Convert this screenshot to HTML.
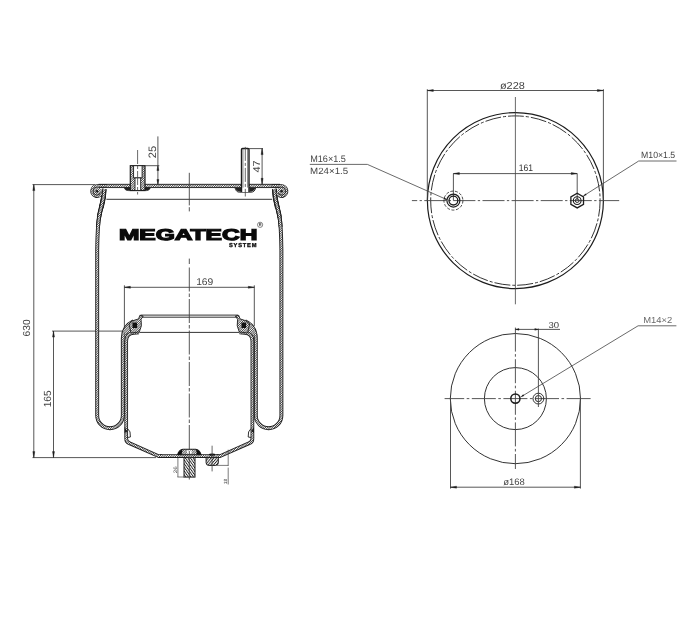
<!DOCTYPE html>
<html><head><meta charset="utf-8"><title>Air spring drawing</title>
<style>
html,body{margin:0;padding:0;background:#fff;}
body{width:700px;height:632px;overflow:hidden;}
svg{display:block;font-family:"Liberation Sans",sans-serif;filter:grayscale(1);text-rendering:geometricPrecision;}
</style></head><body>
<svg width="700" height="632" viewBox="0 0 700 632">
<rect width="700" height="632" fill="#fff"/>
<defs>
<pattern id="h1" width="1.6" height="1.6" patternUnits="userSpaceOnUse" patternTransform="rotate(45)">
<rect width="1.6" height="1.6" fill="#fff"/><rect width="0.8" height="1.6" fill="#444"/></pattern>
<pattern id="h2" width="2.1" height="2.1" patternUnits="userSpaceOnUse" patternTransform="rotate(-35)">
<rect width="2.1" height="2.1" fill="#fff"/><rect width="0.9" height="2.1" fill="#222"/></pattern>
<pattern id="h3" width="2.1" height="2.1" patternUnits="userSpaceOnUse" patternTransform="rotate(40)">
<rect width="2.1" height="2.1" fill="#fff"/><rect width="0.9" height="2.1" fill="#222"/></pattern>
</defs>
<line x1="32.5" y1="184.6" x2="95" y2="184.6" stroke="#444" stroke-width="0.9"/>
<line x1="32.5" y1="457.6" x2="156" y2="457.6" stroke="#444" stroke-width="0.9"/>
<line x1="33.8" y1="184.6" x2="33.8" y2="457.6" stroke="#444" stroke-width="0.9"/>
<polygon points="33.8,184.6 32.8,190.6 34.8,190.6" fill="#1c1c1c" stroke="#1c1c1c" stroke-width="0.4"/>
<polygon points="33.8,457.6 32.8,451.6 34.8,451.6" fill="#1c1c1c" stroke="#1c1c1c" stroke-width="0.4"/>
<line x1="52" y1="331.1" x2="123" y2="331.1" stroke="#444" stroke-width="0.9"/>
<line x1="53.5" y1="331.1" x2="53.5" y2="457.6" stroke="#444" stroke-width="0.9"/>
<polygon points="53.5,331.1 52.5,337.1 54.5,337.1" fill="#1c1c1c" stroke="#1c1c1c" stroke-width="0.4"/>
<polygon points="53.5,457.6 52.5,451.6 54.5,451.6" fill="#1c1c1c" stroke="#1c1c1c" stroke-width="0.4"/>
<text transform="translate(29.77 336.41) rotate(-90) scale(1.0182 1.0195)" font-size="10" fill="#444" stroke="#444" stroke-width="0.0">630</text>
<text transform="translate(51.47 407.36) rotate(-90) scale(1.0129 1.0336)" font-size="10" fill="#444" stroke="#444" stroke-width="0.0">165</text>
<line x1="124.4" y1="285.3" x2="124.4" y2="327" stroke="#444" stroke-width="0.9"/>
<line x1="254.3" y1="285.3" x2="254.3" y2="326" stroke="#444" stroke-width="0.9"/>
<line x1="124.4" y1="287.3" x2="254.3" y2="287.3" stroke="#444" stroke-width="0.9"/>
<polygon points="124.4,287.3 130.4,286.3 130.4,288.3" fill="#1c1c1c" stroke="#1c1c1c" stroke-width="0.4"/>
<polygon points="254.3,287.3 248.3,286.3 248.3,288.3" fill="#1c1c1c" stroke="#1c1c1c" stroke-width="0.4"/>
<text transform="translate(196.13 284.68) scale(1.0300 0.9770)" font-size="10" fill="#444" stroke="#444" stroke-width="0.0">169</text>
<rect x="99" y="184.3" width="180.60000000000002" height="3.3" fill="url(#h1)" stroke="#1c1c1c" stroke-width="0.9"/>
<line x1="106.4" y1="199.3" x2="272.2" y2="199.3" stroke="#1c1c1c" stroke-width="0.9"/>
<path d="M 104.2 189 L 103.5 197 C 102.5 203, 100.6 209, 99.4 215 L 98.5 221 L 97.9 227" fill="none" stroke="#1c1c1c" stroke-width="4.0" stroke-linecap="butt" stroke-linejoin="round"/>
<path d="M 104.2 189 L 103.5 197 C 102.5 203, 100.6 209, 99.4 215 L 98.5 221 L 97.9 227" fill="none" stroke="url(#h1)" stroke-width="2.3" stroke-linecap="butt" stroke-linejoin="round"/>
<path d="M 104.2 189 L 103.5 197 C 102.5 203, 100.6 209, 99.4 215 L 99.0 217.5" fill="none" stroke="#1c1c1c" stroke-width="4.4" stroke-linecap="butt" stroke-linejoin="round"/>
<path d="M 104.2 189 L 103.5 197 C 102.5 203, 100.6 209, 99.4 215 L 99.0 217.5" fill="none" stroke="url(#h1)" stroke-width="2.7" stroke-linecap="butt" stroke-linejoin="round"/>
<path d="M 104.2 189 L 103.5 197 C 102.8 201, 102 204.5, 101.2 208" fill="none" stroke="#1c1c1c" stroke-width="4.8" stroke-linecap="butt" stroke-linejoin="round"/>
<path d="M 104.2 189 L 103.5 197 C 102.8 201, 102 204.5, 101.2 208" fill="none" stroke="url(#h1)" stroke-width="3.0" stroke-linecap="butt" stroke-linejoin="round"/>
<path d="M 104.2 190 L 103.5 197 C 102.5 203, 100.6 209, 99.4 215 C 98.3 221, 97.4 232, 97.2 250 L 97.2 415.4 A 12.8 12.8 0 0 0 122.8 415.4 L 122.8 338 Q 123 326.5, 133.5 321.3" fill="none" stroke="#1c1c1c" stroke-width="3.9" stroke-linecap="butt" stroke-linejoin="round"/>
<path d="M 104.2 190 L 103.5 197 C 102.5 203, 100.6 209, 99.4 215 C 98.3 221, 97.4 232, 97.2 250 L 97.2 415.4 A 12.8 12.8 0 0 0 122.8 415.4 L 122.8 338 Q 123 326.5, 133.5 321.3" fill="none" stroke="url(#h1)" stroke-width="2.1" stroke-linecap="butt" stroke-linejoin="round"/>
<path d="M 124.4 341 L 124.8 331 L 128.5 324.5 L 133 322 L 139.3 331.9 L 131.5 333.2 L 128 336 L 127.7 341 Z" fill="url(#h1)"/>
<path d="M 139 332.4 L 133.5 332.8 Q 126.2 333.5, 126.2 341 L 126.2 438.5 Q 126.0 441.8, 129.5 443.2 L 158.6 456.1 L 162 456.1" fill="none" stroke="#1c1c1c" stroke-width="3.7" stroke-linecap="butt" stroke-linejoin="round"/>
<path d="M 139 332.4 L 133.5 332.8 Q 126.2 333.5, 126.2 341 L 126.2 438.5 Q 126.0 441.8, 129.5 443.2 L 158.6 456.1 L 162 456.1" fill="none" stroke="url(#h1)" stroke-width="2.0" stroke-linecap="butt" stroke-linejoin="round"/>
<path d="M 127.6 428.6 Q 131 431, 130.4 437 L 127.6 437.5" fill="none" stroke="#1c1c1c" stroke-width="0.9"/>
<path d="M 124.6 427 L 127.4 431.5 L 124.6 433 Z" fill="#1c1c1c"/>
<circle cx="97" cy="191.2" r="4.2" fill="url(#h1)" stroke="none"/>
<path d="M 107 185.95 L 96.9 185.95 A 5.05 5.15 0 1 0 101.6 193.2" fill="none" stroke="#1c1c1c" stroke-width="3.3" stroke-linecap="butt" stroke-linejoin="round"/>
<path d="M 107 185.95 L 96.9 185.95 A 5.05 5.15 0 1 0 101.6 193.2" fill="none" stroke="url(#h1)" stroke-width="1.7" stroke-linecap="butt" stroke-linejoin="round"/>
<circle cx="97" cy="191.2" r="1.3" fill="#1c1c1c"/>
<path d="M 129 324 Q 132 320, 138.6 318.9 L 139.8 315.4 L 143.2 316 L 141 319.3 Q 142.6 326, 139.3 331.9 L 131 333 Z" fill="url(#h1)" stroke="#1c1c1c" stroke-width="0.9" stroke-linejoin="round"/>
<rect x="132.5" y="322.6" width="4.6" height="5.4" fill="#111"/>
<path d="M 274.4 189 L 275.1 197 C 276.1 203, 278.0 209, 279.2 215 L 280.1 221 L 280.7 227" fill="none" stroke="#1c1c1c" stroke-width="4.0" stroke-linecap="butt" stroke-linejoin="round"/>
<path d="M 274.4 189 L 275.1 197 C 276.1 203, 278.0 209, 279.2 215 L 280.1 221 L 280.7 227" fill="none" stroke="url(#h1)" stroke-width="2.3" stroke-linecap="butt" stroke-linejoin="round"/>
<path d="M 274.4 189 L 275.1 197 C 276.1 203, 278.0 209, 279.2 215 L 279.6 217.5" fill="none" stroke="#1c1c1c" stroke-width="4.4" stroke-linecap="butt" stroke-linejoin="round"/>
<path d="M 274.4 189 L 275.1 197 C 276.1 203, 278.0 209, 279.2 215 L 279.6 217.5" fill="none" stroke="url(#h1)" stroke-width="2.7" stroke-linecap="butt" stroke-linejoin="round"/>
<path d="M 274.4 189 L 275.1 197 C 275.8 201, 276.6 204.5, 277.4 208" fill="none" stroke="#1c1c1c" stroke-width="4.8" stroke-linecap="butt" stroke-linejoin="round"/>
<path d="M 274.4 189 L 275.1 197 C 275.8 201, 276.6 204.5, 277.4 208" fill="none" stroke="url(#h1)" stroke-width="3.0" stroke-linecap="butt" stroke-linejoin="round"/>
<path d="M 274.4 190 L 275.1 197 C 276.1 203, 278.0 209, 279.2 215 C 280.3 221, 281.2 232, 281.4 250 L 281.4 415.4 A 12.8 12.8 0 0 1 255.8 415.4 L 255.8 338 Q 255.6 326.5, 245.1 321.3" fill="none" stroke="#1c1c1c" stroke-width="3.9" stroke-linecap="butt" stroke-linejoin="round"/>
<path d="M 274.4 190 L 275.1 197 C 276.1 203, 278.0 209, 279.2 215 C 280.3 221, 281.2 232, 281.4 250 L 281.4 415.4 A 12.8 12.8 0 0 1 255.8 415.4 L 255.8 338 Q 255.6 326.5, 245.1 321.3" fill="none" stroke="url(#h1)" stroke-width="2.1" stroke-linecap="butt" stroke-linejoin="round"/>
<path d="M 254.2 341 L 253.8 331 L 250.1 324.5 L 245.6 322 L 239.3 331.9 L 247.1 333.2 L 250.6 336 L 250.9 341 Z" fill="url(#h1)"/>
<path d="M 239.6 332.4 L 245.1 332.8 Q 252.4 333.5, 252.4 341 L 252.4 438.5 Q 252.6 441.8, 249.1 443.2 L 220.0 456.1 L 216.6 456.1" fill="none" stroke="#1c1c1c" stroke-width="3.7" stroke-linecap="butt" stroke-linejoin="round"/>
<path d="M 239.6 332.4 L 245.1 332.8 Q 252.4 333.5, 252.4 341 L 252.4 438.5 Q 252.6 441.8, 249.1 443.2 L 220.0 456.1 L 216.6 456.1" fill="none" stroke="url(#h1)" stroke-width="2.0" stroke-linecap="butt" stroke-linejoin="round"/>
<path d="M 251.0 428.6 Q 247.6 431, 248.2 437 L 251.0 437.5" fill="none" stroke="#1c1c1c" stroke-width="0.9"/>
<path d="M 254.0 427 L 251.2 431.5 L 254.0 433 Z" fill="#1c1c1c"/>
<circle cx="281.6" cy="191.2" r="4.2" fill="url(#h1)" stroke="none"/>
<path d="M 271.6 185.95 L 281.7 185.95 A 5.05 5.15 0 1 1 277.0 193.2" fill="none" stroke="#1c1c1c" stroke-width="3.3" stroke-linecap="butt" stroke-linejoin="round"/>
<path d="M 271.6 185.95 L 281.7 185.95 A 5.05 5.15 0 1 1 277.0 193.2" fill="none" stroke="url(#h1)" stroke-width="1.7" stroke-linecap="butt" stroke-linejoin="round"/>
<circle cx="281.6" cy="191.2" r="1.3" fill="#1c1c1c"/>
<path d="M 249.6 324 Q 246.6 320, 240.0 318.9 L 238.8 315.4 L 235.4 316 L 237.6 319.3 Q 236.0 326, 239.3 331.9 L 247.6 333 Z" fill="url(#h1)" stroke="#1c1c1c" stroke-width="0.9" stroke-linejoin="round"/>
<rect x="241.5" y="322.6" width="4.6" height="5.4" fill="#111"/>
<path d="M 160 456.05 L 218.6 456.05" fill="none" stroke="#1c1c1c" stroke-width="3.7" stroke-linecap="butt" stroke-linejoin="round"/>
<path d="M 160 456.05 L 218.6 456.05" fill="none" stroke="url(#h1)" stroke-width="2.0" stroke-linecap="butt" stroke-linejoin="round"/>
<line x1="140.5" y1="315.1" x2="238.1" y2="315.1" stroke="#1c1c1c" stroke-width="0.9"/>
<line x1="142" y1="317.2" x2="236.6" y2="317.2" stroke="#1c1c1c" stroke-width="0.9"/>
<line x1="139.3" y1="332.4" x2="239.3" y2="332.4" stroke="#1c1c1c" stroke-width="0.9"/>
<path d="M 124.3 187.8 L 150.4 187.8 Q 149.5 190.6, 146.5 190.6 L 128 190.6 Q 125 190.6, 124.3 187.8 Z" fill="#222" stroke="#1c1c1c" stroke-width="0.6"/>
<rect x="130.3" y="165.7" width="14.7" height="24.8" fill="url(#h1)" stroke="#1c1c1c" stroke-width="1.2"/>
<rect x="133.6" y="165.7" width="8.5" height="12.2" fill="#fff" stroke="#1c1c1c" stroke-width="0.9"/>
<rect x="135" y="177.9" width="5.7" height="12.6" fill="#fff" stroke="#1c1c1c" stroke-width="0.9"/>
<line x1="137.6" y1="150" x2="137.6" y2="194.5" stroke="#444" stroke-width="0.8" stroke-dasharray="14 2 3 2"/>
<line x1="145" y1="165.7" x2="159.3" y2="165.7" stroke="#444" stroke-width="0.9"/>
<line x1="157.9" y1="136.4" x2="157.9" y2="184.3" stroke="#444" stroke-width="0.9"/>
<polygon points="157.9,165.7 156.9,170.5 158.9,170.5" fill="#1c1c1c" stroke="#1c1c1c" stroke-width="0.4"/>
<polygon points="157.9,184.3 156.9,179.5 158.9,179.5" fill="#1c1c1c" stroke="#1c1c1c" stroke-width="0.4"/>
<text transform="translate(155.77 158.15) rotate(-90) scale(1.0994 1.0761)" font-size="10" fill="#444" stroke="#444" stroke-width="0.0">25</text>
<path d="M 235 187.8 L 255.7 187.8 Q 254.8 192.2, 251 192.2 L 239.5 192.2 Q 236 192.2, 235 187.8 Z" fill="#fff" stroke="#1c1c1c" stroke-width="0.9"/>
<path d="M 235.4 188 L 241 188 L 241 191.8 Q 236.5 192, 235.4 188 Z" fill="#222"/>
<path d="M 255.3 188 L 249.4 188 L 249.4 191.8 Q 254 192, 255.3 188 Z" fill="#222"/>
<path d="M 241.5 192 L 241.5 149.6 Q 241.5 148.5, 242.6 148.5 L 247.9 148.5 Q 249 148.5, 249 149.6 L 249 192" fill="#fff" stroke="#1c1c1c" stroke-width="1.4"/>
<line x1="243" y1="149" x2="243" y2="187.6" stroke="#444" stroke-width="0.6"/>
<line x1="247.5" y1="149" x2="247.5" y2="187.6" stroke="#444" stroke-width="0.6"/>
<line x1="245.3" y1="146.9" x2="245.3" y2="196.5" stroke="#444" stroke-width="0.8" stroke-dasharray="14 2 3 2"/>
<line x1="249" y1="148.6" x2="263" y2="148.6" stroke="#444" stroke-width="0.9"/>
<line x1="262.1" y1="148.6" x2="262.1" y2="184.3" stroke="#444" stroke-width="0.9"/>
<polygon points="262.1,148.6 261.1,154.6 263.1,154.6" fill="#1c1c1c" stroke="#1c1c1c" stroke-width="0.4"/>
<polygon points="262.1,184.3 261.1,178.3 263.1,178.3" fill="#1c1c1c" stroke="#1c1c1c" stroke-width="0.4"/>
<text transform="translate(260.20 172.57) rotate(-90) scale(1.0988 0.9891)" font-size="10" fill="#444" stroke="#444" stroke-width="0.0">47</text>
<path d="M 177.6 454.7 Q 179 449.6, 183 449.2 L 195.6 449.2 Q 199.6 449.6, 201 454.7 Z" fill="url(#h1)" stroke="#1c1c1c" stroke-width="1.1"/>
<path d="M 177.6 454.7 Q 178.8 450.2, 182.6 449.4 L 181.6 454.7 Z" fill="#111"/>
<path d="M 201 454.7 Q 199.8 450.2, 196 449.4 L 197 454.7 Z" fill="#111"/>
<rect x="187" y="450.4" width="4.6" height="3.2" fill="#fff"/>
<rect x="184" y="457.4" width="11" height="19.7" fill="url(#h2)" stroke="#1c1c1c" stroke-width="1"/>
<line x1="177.9" y1="457.6" x2="177.9" y2="477.1" stroke="#444" stroke-width="0.7"/>
<line x1="177.5" y1="477.0" x2="184" y2="477.0" stroke="#444" stroke-width="0.7"/>
<text transform="translate(177.44 473.31) rotate(-90) scale(0.6282 0.4956)" font-size="10" fill="#444" stroke="#444" stroke-width="0.0">26</text>
<path d="M 206.1 457.4 L 218.3 457.4 L 218.3 462.8 Q 218.3 465.4, 215.5 465.4 L 209 465.4 Q 206.1 465.4, 206.1 462.8 Z" fill="url(#h3)" stroke="#1c1c1c" stroke-width="1"/>
<ellipse cx="212.2" cy="454.7" rx="3.2" ry="1.1" fill="#111"/>
<line x1="212.1" y1="445.7" x2="212.1" y2="471.4" stroke="#444" stroke-width="0.8"/>
<line x1="228.2" y1="449.7" x2="228.2" y2="466" stroke="#444" stroke-width="0.7"/>
<line x1="228.2" y1="467.6" x2="228.2" y2="484.5" stroke="#444" stroke-width="0.7"/>
<line x1="217" y1="465.4" x2="228.2" y2="465.4" stroke="#444" stroke-width="0.7"/>
<text transform="translate(227.14 484.27) rotate(-90) scale(0.4931 0.4531)" font-size="10" fill="#444" stroke="#444" stroke-width="0.0">18</text>
<line x1="189.3" y1="172.8" x2="189.3" y2="205.4" stroke="#444" stroke-width="0.9"/>
<line x1="189.3" y1="207.2" x2="189.3" y2="211.4" stroke="#444" stroke-width="0.9"/>
<line x1="189.3" y1="258.6" x2="189.3" y2="264" stroke="#444" stroke-width="0.9"/>
<line x1="189.3" y1="267.5" x2="189.3" y2="479.5" stroke="#444" stroke-width="0.9" stroke-dasharray="24 2 3.5 2"/>
<text transform="translate(118.9 240) scale(1.572 1)" font-size="15.6" font-weight="bold" fill="#0a0a0a" stroke="#0a0a0a" stroke-width="1.2" stroke-linejoin="miter">MEGATECH</text>
<text x="229.0" y="247.45" font-size="5.7" font-weight="bold" fill="#111" stroke="#111" stroke-width="0.35" textLength="27.4" lengthAdjust="spacing">SYSTEM</text>
<circle cx="260.1" cy="224.8" r="2.6" fill="none" stroke="#333" stroke-width="0.6"/>
<text x="260.15" y="226.2" font-size="3.9" font-weight="bold" fill="#333" text-anchor="middle">R</text>
<circle cx="515.4" cy="200.6" r="88" fill="none" stroke="#1c1c1c" stroke-width="1.2"/>
<circle cx="515.4" cy="200.6" r="84.7" fill="none" stroke="#1c1c1c" stroke-width="0.9" stroke-dasharray="16 2 3 2"/>
<line x1="515.4" y1="97" x2="515.4" y2="304.3" stroke="#444" stroke-width="0.8"/>
<line x1="411.9" y1="200.6" x2="619.2" y2="200.6" stroke="#444" stroke-width="0.9" stroke-dasharray="22 2.4 2.3 2.4" stroke-dashoffset="16.7"/>
<line x1="427.3" y1="89.2" x2="427.3" y2="200.6" stroke="#444" stroke-width="0.9"/>
<line x1="603.4" y1="89.2" x2="603.4" y2="200.6" stroke="#444" stroke-width="0.9"/>
<line x1="427.3" y1="90.5" x2="603.4" y2="90.5" stroke="#444" stroke-width="0.9"/>
<polygon points="427.3,90.5 433.3,89.5 433.3,91.5" fill="#1c1c1c" stroke="#1c1c1c" stroke-width="0.4"/>
<polygon points="603.4,90.5 597.4,89.5 597.4,91.5" fill="#1c1c1c" stroke="#1c1c1c" stroke-width="0.4"/>
<text transform="translate(499.93 88.51) scale(1.0938 1.0105)" font-size="10" fill="#444" stroke="#444" stroke-width="0.0">ø228</text>
<line x1="453.4" y1="173.6" x2="453.4" y2="200.6" stroke="#444" stroke-width="0.9"/>
<line x1="577.2" y1="173.6" x2="577.2" y2="200.6" stroke="#444" stroke-width="0.9"/>
<line x1="453.4" y1="173.6" x2="577.2" y2="173.6" stroke="#444" stroke-width="0.9"/>
<polygon points="453.4,173.6 459.4,172.6 459.4,174.6" fill="#1c1c1c" stroke="#1c1c1c" stroke-width="0.4"/>
<polygon points="577.2,173.6 571.2,172.6 571.2,174.6" fill="#1c1c1c" stroke="#1c1c1c" stroke-width="0.4"/>
<text transform="translate(518.86 171.08) scale(0.8551 0.9487)" font-size="10" fill="#333" stroke="#333" stroke-width="0.0">161</text>
<circle cx="453.4" cy="200.6" r="9.5" fill="none" stroke="#1c1c1c" stroke-width="0.8" stroke-dasharray="3 1.6"/>
<circle cx="453.4" cy="200.6" r="6.5" fill="none" stroke="#1c1c1c" stroke-width="1.2"/>
<circle cx="453.4" cy="200.6" r="4.4" fill="none" stroke="#1c1c1c" stroke-width="1.3"/>
<polygon points="577.20,193.30 583.52,196.95 583.52,204.25 577.20,207.90 570.88,204.25 570.88,196.95" fill="none" stroke="#1c1c1c" stroke-width="1.3"/>
<circle cx="577.2" cy="200.6" r="3.9" fill="none" stroke="#1c1c1c" stroke-width="1.1"/>
<circle cx="577.2" cy="200.6" r="1.9" fill="none" stroke="#1c1c1c" stroke-width="0.9"/>
<polyline points="309.8,164.4 367.4,164.4 446.8,199.6" fill="none" stroke="#444" stroke-width="0.8"/>
<polygon points="447.4,199.9 443.6,199.2 444.3,197.6" fill="#1c1c1c"/>
<text transform="translate(310.16 162.28) scale(0.9120 0.9487)" font-size="10" fill="#444" stroke="#444" stroke-width="0.0">M16×1.5</text>
<text transform="translate(310.11 173.89) scale(0.9700 0.9062)" font-size="10" fill="#444" stroke="#444" stroke-width="0.0">M24×1.5</text>
<polyline points="676.5,161 638.7,161 583.6,195.8" fill="none" stroke="#444" stroke-width="0.8"/>
<polygon points="583,196.2 585.6,193.5 586.6,195" fill="#1c1c1c"/>
<text transform="translate(641.09 158.39) scale(0.8699 0.9062)" font-size="10" fill="#444" stroke="#444" stroke-width="0.0">M10×1.5</text>
<circle cx="515.4" cy="398.6" r="65.1" fill="none" stroke="#1c1c1c" stroke-width="0.9"/>
<circle cx="515.4" cy="398.6" r="31" fill="none" stroke="#1c1c1c" stroke-width="0.9"/>
<line x1="515.4" y1="327.6" x2="515.4" y2="469" stroke="#444" stroke-width="0.9" stroke-dasharray="24 2.5 2.6 2.5"/>
<line x1="444.6" y1="398.6" x2="590.7" y2="398.6" stroke="#444" stroke-width="0.9" stroke-dasharray="24 2.5 2.6 2.5" stroke-dashoffset="4.4"/>
<circle cx="515.4" cy="398.6" r="4.6" fill="none" stroke="#1c1c1c" stroke-width="1.5"/>
<circle cx="538.4" cy="398.6" r="5.4" fill="none" stroke="#1c1c1c" stroke-width="0.9"/>
<circle cx="538.4" cy="398.6" r="3.1" fill="none" stroke="#1c1c1c" stroke-width="0.9"/>
<line x1="538.4" y1="328.6" x2="538.4" y2="407" stroke="#444" stroke-width="0.9"/>
<line x1="515.4" y1="329.4" x2="560" y2="329.4" stroke="#444" stroke-width="0.9"/>
<polygon points="515.4,329.4 519.0,328.59999999999997 519.0,330.2" fill="#1c1c1c" stroke="#1c1c1c" stroke-width="0.4"/>
<polygon points="538.4,329.4 534.8,328.59999999999997 534.8,330.2" fill="#1c1c1c" stroke="#1c1c1c" stroke-width="0.4"/>
<text transform="translate(548.44 328.29) scale(0.9542 0.8637)" font-size="10" fill="#333" stroke="#333" stroke-width="0.0">30</text>
<line x1="450.5" y1="398.6" x2="450.5" y2="488.6" stroke="#444" stroke-width="0.9"/>
<line x1="580.4" y1="398.6" x2="580.4" y2="488.6" stroke="#444" stroke-width="0.9"/>
<line x1="450.5" y1="487.2" x2="580.4" y2="487.2" stroke="#444" stroke-width="0.9"/>
<polygon points="450.5,487.2 456.5,486.2 456.5,488.2" fill="#1c1c1c" stroke="#1c1c1c" stroke-width="0.4"/>
<polygon points="580.4,487.2 574.4,486.2 574.4,488.2" fill="#1c1c1c" stroke="#1c1c1c" stroke-width="0.4"/>
<text transform="translate(503.16 484.62) scale(0.9492 0.9404)" font-size="10" fill="#444" stroke="#444" stroke-width="0.0">ø168</text>
<polyline points="676.4,325.8 638.1,325.8 521.4,396.6" fill="none" stroke="#444" stroke-width="0.8"/>
<polygon points="520.6,397.1 523.2,394.3 524.2,395.9" fill="#1c1c1c"/>
<text transform="translate(643.13 323.30) scale(0.9438 0.8793)" font-size="10" fill="#6a6a6a" stroke="#6a6a6a" stroke-width="0.0">M14×2</text>
</svg>
</body></html>
